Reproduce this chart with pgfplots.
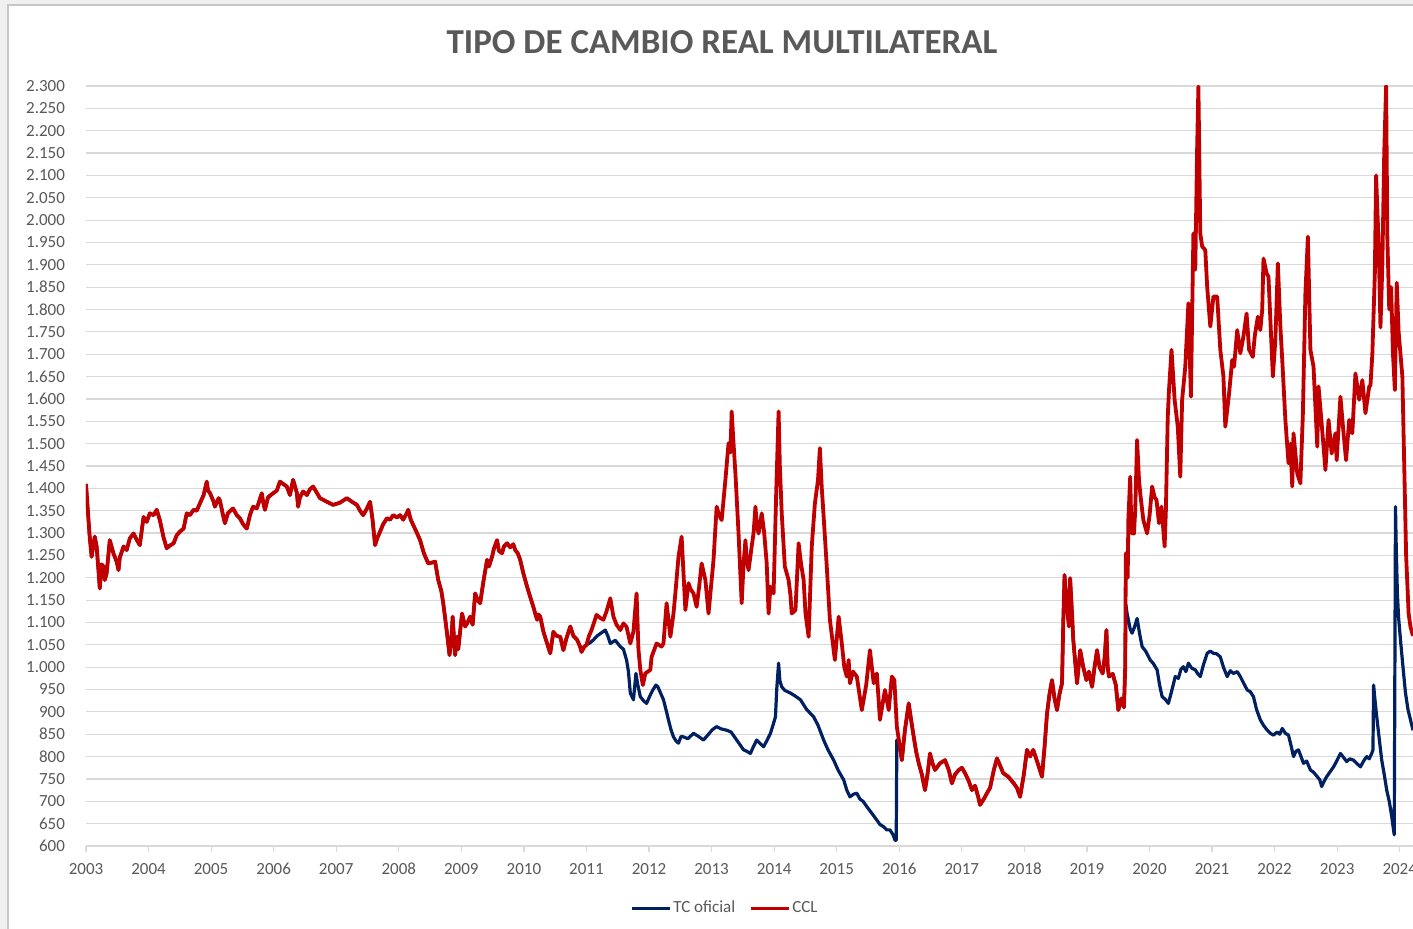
\documentclass[border=0pt]{standalone}
\usepackage{fontspec}
\setmainfont{Carlito}
\usepackage{pgfplots}
\usepackage{pgfplotstable}
\pgfplotsset{compat=1.18}
\definecolor{tcblue}{HTML}{002060}
\definecolor{cclred}{HTML}{C00000}
\definecolor{txtgray}{HTML}{595959}
\definecolor{gridgray}{HTML}{D9D9D9}

\pgfplotstableread{
yr v
2003.00 1410
2003.04 1329
2003.06 1290
2003.09 1247
2003.12 1275
2003.14 1292
2003.17 1270
2003.20 1215
2003.22 1176
2003.25 1230
2003.28 1225
2003.30 1195
2003.33 1210
2003.38 1284
2003.44 1254
2003.49 1236
2003.52 1217
2003.54 1245
2003.60 1270
2003.65 1262
2003.70 1288
2003.76 1299
2003.81 1285
2003.86 1273
2003.92 1336
2003.97 1325
2004.02 1344
2004.08 1340
2004.13 1352
2004.18 1329
2004.24 1290
2004.29 1266
2004.34 1272
2004.40 1277
2004.45 1295
2004.50 1303
2004.56 1310
2004.61 1344
2004.66 1340
2004.72 1352
2004.77 1350
2004.82 1366
2004.88 1385
2004.93 1415
2004.95 1395
2004.98 1390
2005.04 1370
2005.06 1359
2005.12 1378
2005.14 1373
2005.19 1340
2005.22 1322
2005.27 1345
2005.35 1355
2005.41 1340
2005.46 1333
2005.51 1320
2005.57 1310
2005.62 1340
2005.67 1359
2005.73 1355
2005.81 1389
2005.83 1370
2005.86 1352
2005.91 1380
2005.99 1389
2006.05 1395
2006.10 1415
2006.15 1410
2006.21 1404
2006.26 1385
2006.31 1419
2006.37 1390
2006.39 1359
2006.42 1380
2006.47 1393
2006.53 1385
2006.58 1398
2006.63 1404
2006.69 1390
2006.74 1378
2006.85 1370
2006.95 1363
2007.06 1368
2007.17 1378
2007.25 1370
2007.33 1363
2007.38 1350
2007.43 1340
2007.49 1355
2007.54 1370
2007.58 1330
2007.62 1273
2007.66 1290
2007.70 1303
2007.75 1320
2007.81 1333
2007.86 1330
2007.91 1340
2007.97 1335
2008.02 1340
2008.07 1330
2008.13 1345
2008.15 1352
2008.19 1330
2008.23 1318
2008.29 1300
2008.34 1284
2008.40 1255
2008.47 1232
2008.53 1234
2008.58 1236
2008.63 1195
2008.68 1170
2008.71 1143
2008.74 1110
2008.77 1076
2008.81 1027
2008.84 1060
2008.86 1113
2008.90 1027
2008.93 1068
2008.95 1040
2009.01 1120
2009.06 1091
2009.10 1100
2009.14 1113
2009.18 1095
2009.22 1165
2009.26 1150
2009.30 1143
2009.35 1190
2009.41 1240
2009.44 1225
2009.49 1247
2009.52 1265
2009.57 1284
2009.60 1260
2009.65 1255
2009.68 1270
2009.73 1277
2009.78 1268
2009.83 1275
2009.86 1262
2009.90 1255
2009.94 1240
2009.99 1210
2010.05 1180
2010.10 1157
2010.15 1135
2010.18 1120
2010.21 1106
2010.23 1118
2010.26 1113
2010.31 1080
2010.37 1053
2010.42 1031
2010.47 1079
2010.52 1070
2010.58 1068
2010.63 1038
2010.68 1065
2010.74 1091
2010.79 1070
2010.85 1061
2010.90 1045
2010.92 1034
2010.96 1045
2011.00 1050
2011.04 1070
2011.08 1083
2011.12 1100
2011.16 1117
2011.22 1110
2011.27 1106
2011.32 1125
2011.38 1154
2011.43 1113
2011.48 1095
2011.54 1083
2011.59 1098
2011.64 1090
2011.70 1053
2011.75 1080
2011.80 1165
2011.83 1040
2011.86 994
2011.90 960
2011.94 986
2012.02 994
2012.04 1023
2012.12 1053
2012.20 1046
2012.23 1053
2012.28 1143
2012.34 1068
2012.39 1120
2012.42 1165
2012.47 1247
2012.52 1292
2012.58 1128
2012.63 1188
2012.66 1175
2012.71 1165
2012.76 1135
2012.80 1180
2012.84 1232
2012.90 1195
2012.95 1120
2012.99 1180
2013.03 1240
2013.08 1359
2013.12 1340
2013.16 1329
2013.22 1419
2013.27 1501
2013.30 1480
2013.32 1572
2013.35 1500
2013.38 1433
2013.43 1299
2013.48 1143
2013.51 1230
2013.54 1284
2013.56 1240
2013.59 1217
2013.64 1270
2013.67 1300
2013.70 1359
2013.72 1320
2013.75 1299
2013.80 1344
2013.84 1300
2013.88 1232
2013.91 1120
2013.94 1180
2013.99 1165
2014.03 1381
2014.07 1572
2014.09 1450
2014.12 1344
2014.17 1225
2014.23 1195
2014.26 1160
2014.28 1120
2014.34 1128
2014.39 1277
2014.43 1230
2014.47 1195
2014.50 1120
2014.55 1068
2014.60 1270
2014.65 1366
2014.70 1419
2014.73 1490
2014.76 1400
2014.78 1359
2014.84 1225
2014.89 1106
2014.97 1016
2015.03 1113
2015.08 1053
2015.12 1000
2015.16 979
2015.19 1016
2015.21 964
2015.26 990
2015.32 979
2015.40 904
2015.47 960
2015.53 1038
2015.59 964
2015.64 986
2015.69 882
2015.77 949
2015.83 904
2015.88 979
2015.92 971
2015.96 867
2016.00 830
2016.04 792
2016.09 860
2016.15 919
2016.19 880
2016.23 844
2016.27 810
2016.31 785
2016.36 760
2016.41 725
2016.45 760
2016.49 807
2016.53 785
2016.57 770
2016.65 785
2016.73 792
2016.79 770
2016.84 740
2016.89 760
2016.95 770
2017.00 775
2017.05 763
2017.11 745
2017.16 725
2017.21 735
2017.26 710
2017.29 692
2017.35 705
2017.40 718
2017.45 730
2017.51 770
2017.56 796
2017.61 780
2017.66 763
2017.74 755
2017.83 740
2017.88 730
2017.93 710
2017.99 760
2018.04 815
2018.09 800
2018.14 815
2018.20 790
2018.28 755
2018.32 820
2018.36 896
2018.40 940
2018.44 971
2018.48 930
2018.52 904
2018.56 940
2018.60 964
2018.62 1100
2018.64 1206
2018.67 1150
2018.71 1091
2018.73 1199
2018.76 1120
2018.78 1061
2018.84 964
2018.89 1038
2018.94 1000
2018.99 971
2019.03 990
2019.08 956
2019.12 1000
2019.16 1038
2019.20 1000
2019.25 986
2019.28 1020
2019.31 1083
2019.33 1000
2019.35 979
2019.41 985
2019.46 960
2019.50 904
2019.55 930
2019.59 910
2019.61 1000
2019.62 1255
2019.65 1200
2019.66 1329
2019.69 1426
2019.71 1300
2019.75 1299
2019.77 1350
2019.80 1508
2019.83 1420
2019.85 1389
2019.90 1329
2019.96 1299
2020.00 1340
2020.04 1404
2020.08 1380
2020.11 1374
2020.15 1322
2020.19 1359
2020.24 1270
2020.26 1350
2020.29 1560
2020.31 1620
2020.35 1710
2020.40 1598
2020.45 1538
2020.49 1426
2020.52 1598
2020.57 1672
2020.62 1814
2020.66 1605
2020.70 1970
2020.73 1889
2020.76 2164
2020.78 2299
2020.81 1970
2020.84 1941
2020.89 1933
2020.92 1851
2020.97 1762
2021.02 1829
2021.08 1829
2021.13 1710
2021.18 1650
2021.21 1538
2021.27 1612
2021.32 1687
2021.35 1672
2021.40 1754
2021.45 1702
2021.50 1740
2021.55 1791
2021.59 1710
2021.65 1694
2021.68 1740
2021.73 1784
2021.77 1754
2021.80 1800
2021.82 1914
2021.87 1881
2021.90 1873
2021.97 1650
2022.01 1732
2022.05 1903
2022.09 1762
2022.12 1687
2022.17 1553
2022.22 1456
2022.25 1500
2022.28 1404
2022.30 1523
2022.36 1433
2022.41 1411
2022.45 1568
2022.49 1836
2022.53 1963
2022.57 1710
2022.62 1672
2022.68 1493
2022.70 1628
2022.75 1545
2022.81 1441
2022.86 1553
2022.91 1478
2022.97 1523
2022.99 1463
2023.05 1605
2023.10 1523
2023.14 1463
2023.19 1553
2023.24 1523
2023.29 1657
2023.35 1598
2023.40 1642
2023.45 1568
2023.51 1628
2023.53 1630
2023.56 1700
2023.60 1880
2023.62 2100
2023.66 1950
2023.69 1760
2023.72 1900
2023.75 2150
2023.78 2300
2023.80 1960
2023.83 1800
2023.86 1850
2023.89 1700
2023.92 1620
2023.95 1860
2023.98 1750
2024.01 1700
2024.04 1650
2024.07 1450
2024.10 1250
2024.14 1120
2024.17 1090
2024.21 1070
}\ccldata

\pgfplotstableread{
yr v
2003.00 1410
2003.04 1329
2003.06 1290
2003.09 1247
2003.12 1275
2003.14 1292
2003.17 1270
2003.20 1215
2003.22 1176
2003.25 1230
2003.28 1225
2003.30 1195
2003.33 1210
2003.38 1284
2003.44 1254
2003.49 1236
2003.52 1217
2003.54 1245
2003.60 1270
2003.65 1262
2003.70 1288
2003.76 1299
2003.81 1285
2003.86 1273
2003.92 1336
2003.97 1325
2004.02 1344
2004.08 1340
2004.13 1352
2004.18 1329
2004.24 1290
2004.29 1266
2004.34 1272
2004.40 1277
2004.45 1295
2004.50 1303
2004.56 1310
2004.61 1344
2004.66 1340
2004.72 1352
2004.77 1350
2004.82 1366
2004.88 1385
2004.93 1415
2004.95 1395
2004.98 1390
2005.04 1370
2005.06 1359
2005.12 1378
2005.14 1373
2005.19 1340
2005.22 1322
2005.27 1345
2005.35 1355
2005.41 1340
2005.46 1333
2005.51 1320
2005.57 1310
2005.62 1340
2005.67 1359
2005.73 1355
2005.81 1389
2005.83 1370
2005.86 1352
2005.91 1380
2005.99 1389
2006.05 1395
2006.10 1415
2006.15 1410
2006.21 1404
2006.26 1385
2006.31 1419
2006.37 1390
2006.39 1359
2006.42 1380
2006.47 1393
2006.53 1385
2006.58 1398
2006.63 1404
2006.69 1390
2006.74 1378
2006.85 1370
2006.95 1363
2007.06 1368
2007.17 1378
2007.25 1370
2007.33 1363
2007.38 1350
2007.43 1340
2007.49 1355
2007.54 1370
2007.58 1330
2007.62 1273
2007.66 1290
2007.70 1303
2007.75 1320
2007.81 1333
2007.86 1330
2007.91 1340
2007.97 1335
2008.02 1340
2008.07 1330
2008.13 1345
2008.15 1352
2008.19 1330
2008.23 1318
2008.29 1300
2008.34 1284
2008.40 1255
2008.47 1232
2008.53 1234
2008.58 1236
2008.63 1195
2008.68 1170
2008.71 1143
2008.74 1110
2008.77 1076
2008.81 1027
2008.84 1060
2008.86 1113
2008.90 1027
2008.93 1068
2008.95 1040
2009.01 1120
2009.06 1091
2009.10 1100
2009.14 1113
2009.18 1095
2009.22 1165
2009.26 1150
2009.30 1143
2009.35 1190
2009.41 1240
2009.44 1225
2009.49 1247
2009.52 1265
2009.57 1284
2009.60 1260
2009.65 1255
2009.68 1270
2009.73 1277
2009.78 1268
2009.83 1275
2009.86 1262
2009.90 1255
2009.94 1240
2009.99 1210
2010.05 1180
2010.10 1157
2010.15 1135
2010.18 1120
2010.21 1106
2010.23 1118
2010.26 1113
2010.31 1080
2010.37 1053
2010.42 1031
2010.47 1079
2010.52 1070
2010.58 1068
2010.63 1038
2010.68 1065
2010.74 1091
2010.79 1070
2010.85 1061
2010.90 1045
2010.92 1034
2010.96 1045
2011.00 1050
2011.06 1055
2011.11 1061
2011.17 1070
2011.22 1075
2011.30 1083
2011.34 1070
2011.38 1053
2011.46 1060
2011.54 1046
2011.59 1040
2011.64 1016
2011.67 990
2011.70 942
2011.75 927
2011.79 986
2011.82 960
2011.86 934
2011.91 925
2011.96 919
2012.01 935
2012.06 949
2012.11 960
2012.14 956
2012.19 940
2012.23 927
2012.27 905
2012.31 882
2012.35 860
2012.39 844
2012.43 835
2012.47 830
2012.51 845
2012.55 844
2012.62 840
2012.71 852
2012.79 845
2012.87 837
2012.95 850
2013.01 860
2013.08 867
2013.15 862
2013.24 859
2013.31 855
2013.40 837
2013.46 825
2013.51 815
2013.56 812
2013.62 807
2013.66 820
2013.72 837
2013.77 830
2013.83 822
2013.88 835
2013.94 852
2013.98 870
2014.02 889
2014.04 950
2014.07 1009
2014.09 970
2014.12 956
2014.17 948
2014.26 942
2014.34 935
2014.42 927
2014.52 905
2014.63 889
2014.70 870
2014.79 837
2014.86 815
2014.95 792
2015.02 770
2015.11 748
2015.16 725
2015.21 710
2015.27 716
2015.32 718
2015.37 705
2015.42 700
2015.48 688
2015.55 675
2015.64 658
2015.69 648
2015.75 643
2015.80 636
2015.85 636
2015.90 625
2015.93 613
2015.95 613
2015.96 837
2016.00 830
2016.04 792
2016.09 860
2016.15 919
2016.19 880
2016.23 844
2016.27 810
2016.31 785
2016.36 760
2016.41 725
2016.45 760
2016.49 807
2016.53 785
2016.57 770
2016.65 785
2016.73 792
2016.79 770
2016.84 740
2016.89 760
2016.95 770
2017.00 775
2017.05 763
2017.11 745
2017.16 725
2017.21 735
2017.26 710
2017.29 692
2017.35 705
2017.40 718
2017.45 730
2017.51 770
2017.56 796
2017.61 780
2017.66 763
2017.74 755
2017.83 740
2017.88 730
2017.93 710
2017.99 760
2018.04 815
2018.09 800
2018.14 815
2018.20 790
2018.28 755
2018.32 820
2018.36 896
2018.40 940
2018.44 971
2018.48 930
2018.52 904
2018.56 940
2018.60 964
2018.62 1100
2018.64 1206
2018.67 1150
2018.71 1091
2018.73 1199
2018.76 1120
2018.78 1061
2018.84 964
2018.89 1038
2018.94 1000
2018.99 971
2019.03 990
2019.08 956
2019.12 1000
2019.16 1038
2019.20 1000
2019.25 986
2019.28 1020
2019.31 1083
2019.33 1000
2019.35 979
2019.41 985
2019.46 960
2019.50 904
2019.55 930
2019.59 910
2019.61 1000
2019.62 1140
2019.64 1120
2019.66 1106
2019.69 1085
2019.72 1076
2019.76 1090
2019.80 1109
2019.84 1075
2019.88 1046
2019.94 1035
2020.01 1016
2020.06 1008
2020.12 994
2020.16 960
2020.20 934
2020.25 928
2020.30 919
2020.35 945
2020.41 979
2020.46 975
2020.50 995
2020.54 1001
2020.58 990
2020.62 1009
2020.67 998
2020.73 994
2020.77 985
2020.81 979
2020.86 1005
2020.92 1031
2020.97 1036
2021.02 1031
2021.07 1030
2021.13 1023
2021.18 1000
2021.24 979
2021.29 992
2021.34 986
2021.40 990
2021.45 979
2021.50 965
2021.56 949
2021.61 945
2021.66 934
2021.71 905
2021.77 882
2021.82 870
2021.88 859
2021.93 852
2021.98 848
2022.04 855
2022.08 850
2022.12 863
2022.17 852
2022.22 848
2022.26 825
2022.30 800
2022.34 812
2022.38 815
2022.42 800
2022.46 785
2022.51 790
2022.57 770
2022.62 765
2022.68 755
2022.72 748
2022.75 733
2022.79 745
2022.83 755
2022.88 765
2022.94 777
2022.99 790
2023.05 807
2023.10 798
2023.15 789
2023.20 795
2023.26 792
2023.31 785
2023.37 777
2023.42 790
2023.47 800
2023.51 795
2023.55 807
2023.57 815
2023.58 960
2023.60 930
2023.63 889
2023.67 840
2023.71 792
2023.75 760
2023.79 725
2023.83 700
2023.87 666
2023.89 645
2023.91 625
2023.93 1359
2023.94 1280
2023.96 1165
2023.98 1110
2024.01 1061
2024.05 1000
2024.09 942
2024.13 905
2024.17 882
2024.21 859
}\tcdata

\begin{document}
\begin{tikzpicture}
\useasboundingbox (0,0) rectangle (706.5pt,464.5pt);
\fill[gray!12] (0,0) rectangle (706.5pt,464.5pt);
\draw[gray!45, fill=white, line width=0.6pt] (4pt,-5pt) rectangle (712pt,462pt);
\node[font=\bfseries\fontsize{17.5pt}{20pt}\selectfont, text=txtgray] at (361pt,443.5pt) {TIPO DE CAMBIO REAL MULTILATERAL};
\begin{axis}[
  at={(43pt,41.5pt)}, anchor=south west,
  scale only axis, width=663.5pt, height=380pt,
  xmin=2003, xmax=2024.21, ymin=600, ymax=2300,
  axis x line*=bottom, axis y line*=left,
  x axis line style={draw=gridgray, line width=0.6pt},
  y axis line style={draw=none},
  xtick={2003,2004,...,2024},
  ytick distance=50,
  ymajorgrids, grid style={draw=gridgray, line width=0.6pt},
  ytick style={draw=none},
  xtick style={draw=gridgray, line width=0.6pt},
  tick align=outside, major tick length=3pt,
  tick label style={font=\fontsize{8.5pt}{10pt}\selectfont, text=txtgray},
  /pgf/number format/assume math mode=true,
  yticklabel style={/pgf/number format/1000 sep={.}, xshift=-4pt},
  xticklabel style={/pgf/number format/1000 sep={}, yshift=-2pt},
  legend columns=2,
  legend style={at={(0.4815,-0.0816)}, anchor=center, draw=none, fill=none,
    font=\fontsize{8.5pt}{10pt}\selectfont, text=txtgray,
    /tikz/every even column/.append style={column sep=6pt},
    nodes={inner xsep=1pt}},
  legend image code/.code={\draw[#1, line width=1.5pt] (0pt,0pt) -- (19pt,0pt);},
]
\addplot[tcblue, line width=1.6pt, line join=round] table[x=yr,y=v] {\tcdata};
\addlegendentry{TC oficial}
\addplot[cclred, line width=1.9pt, line join=round] table[x=yr,y=v] {\ccldata};
\addlegendentry{CCL}
\end{axis}
\end{tikzpicture}
\end{document}
